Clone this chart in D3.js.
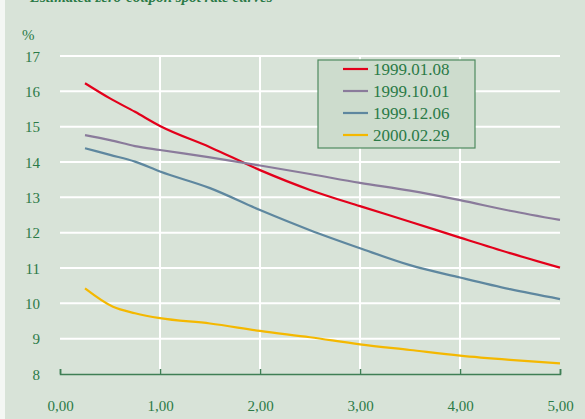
<!DOCTYPE html>
<meta charset="utf-8">
<style>
body { margin: 0; background: #f4f7f4; }
svg { display: block; }
text { font-family: "Liberation Serif", "Times New Roman", serif; }
.tick text, .lbl { fill: #2b7a47; font-size: 15px; font-family: "Liberation Serif", "Times New Roman", serif; }
.legend text { fill: #2b7a47; font-size: 17px; }
</style>
<body>
<script src="https://cdn.jsdelivr.net/npm/d3@7"></script>
<script>

var maturities = [0.25, 0.5, 0.75, 1, 1.5, 2, 2.5, 3, 3.5, 4, 4.5, 5];
var r990108 = [16.23, 15.80, 15.42, 15.02, 14.42, 13.77, 13.21, 12.75, 12.31, 11.86, 11.42, 11.01];
var r991001 = [14.76, 14.62, 14.45, 14.34, 14.13, 13.90, 13.66, 13.41, 13.19, 12.92, 12.62, 12.36];
var r991206 = [14.39, 14.20, 14.01, 13.73, 13.26, 12.64, 12.07, 11.56, 11.08, 10.73, 10.40, 10.12];
var yMat = [0.25, 0.53, 0.75, 1, 1.5, 2, 2.5, 3, 3.5, 4, 4.5, 5];
var r000229 = [10.42, 9.90, 9.72, 9.58, 9.43, 9.22, 9.04, 8.84, 8.68, 8.52, 8.40, 8.30];
var seriesNames = ["1999.01.08", "1999.10.01", "1999.12.06", "2000.02.29"];
var xTicks = [0, 1, 2, 3, 4, 5];
var yTicks = [8, 9, 10, 11, 12, 13, 14, 15, 16, 17];

var series = [
  {name: seriesNames[0], x: maturities, y: r990108, color: "#e3001b"},
  {name: seriesNames[1], x: maturities, y: r991001, color: "#8a7b9b"},
  {name: seriesNames[2], x: maturities, y: r991206, color: "#5e879f"},
  {name: seriesNames[3], x: yMat, y: r000229, color: "#f4b800"}
];

var W = 585, H = 419;
var svg = d3.select("body").append("svg").attr("width", W).attr("height", H);

svg.append("rect").attr("x", 5).attr("y", 0).attr("width", W - 5).attr("height", H)
    .attr("fill", "#d8e3d8");

// title, mostly clipped off the top as in the source
svg.append("text")
    .attr("x", 30).attr("y", 2)
    .attr("fill", "#2b7a47")
    .style("font-size", "15px").style("font-weight", "bold").style("font-style", "italic")
    .text("Estimated zero-coupon spot rate curves");

var x = d3.scaleLinear().domain([0, 5]).range([60, 560]);
var y = d3.scaleLinear().domain([8, 17]).range([374, 56]);

// grid
svg.append("g").selectAll("line").data(yTicks.slice(1)).enter().append("line")
    .attr("x1", x(0)).attr("x2", x(5))
    .attr("y1", function(d) { return y(d); }).attr("y2", function(d) { return y(d); })
    .attr("stroke", "#fff").attr("stroke-width", 2);
svg.append("g").selectAll("line").data([1, 2, 3, 4]).enter().append("line")
    .attr("x1", function(d) { return x(d); }).attr("x2", function(d) { return x(d); })
    .attr("y1", y(17)).attr("y2", y(8))
    .attr("stroke", "#fff").attr("stroke-width", 2);

// y labels
svg.append("g")
    .attr("transform", "translate(40,0)")
    .call(d3.axisLeft(y).tickValues(yTicks).tickSize(0).tickPadding(0))
    .call(function(g) {
      g.attr("font-family", null).attr("font-size", null);
      g.select(".domain").remove();
      g.selectAll("text").attr("dy", "0.35em");
    });

svg.append("text").attr("class", "lbl").attr("x", 22).attr("y", 40).text("%");

// x axis
svg.append("g")
    .attr("transform", "translate(0," + y(8) + ")")
    .call(d3.axisTop(x).tickValues(xTicks).tickSize(5).tickSizeOuter(5)
      .tickFormat(function(d) { return d3.format(".2f")(d).replace(".", ","); }))
    .call(function(g) {
      g.attr("font-family", null).attr("font-size", null);
      g.select(".domain").attr("stroke", "#3f7f55").attr("stroke-width", 1.5);
      g.selectAll(".tick line").attr("stroke", "#3f7f55").attr("stroke-width", 1.5);
      g.selectAll("text").attr("y", 37).attr("dy", 0);
    });

// lines
var line = d3.line()
    .curve(d3.curveMonotoneX)
    .x(function(d) { return x(d[0]); })
    .y(function(d) { return y(d[1]); });

svg.append("g").selectAll("path").data(series).enter().append("path")
    .attr("d", function(s) { return line(s.x.map(function(v, i) { return [v, s.y[i]]; })); })
    .attr("fill", "none")
    .attr("stroke", function(s) { return s.color; })
    .attr("stroke-width", 2.2);

// legend
var lg = svg.append("g").attr("class", "legend");
lg.append("rect").attr("x", 318).attr("y", 60).attr("width", 157).attr("height", 88)
    .attr("fill", "#cddccd").attr("stroke", "#4f8a5f").attr("stroke-width", 1.2);
var item = lg.selectAll("g").data(series).enter().append("g")
    .attr("transform", function(d, i) { return "translate(0," + (69 + i * 22) + ")"; });
item.append("line").attr("x1", 343).attr("x2", 368)
    .attr("stroke", function(d) { return d.color; }).attr("stroke-width", 2.2);
item.append("text").attr("x", 373).attr("dy", "0.35em").text(function(d) { return d.name; });

</script>
</body>
